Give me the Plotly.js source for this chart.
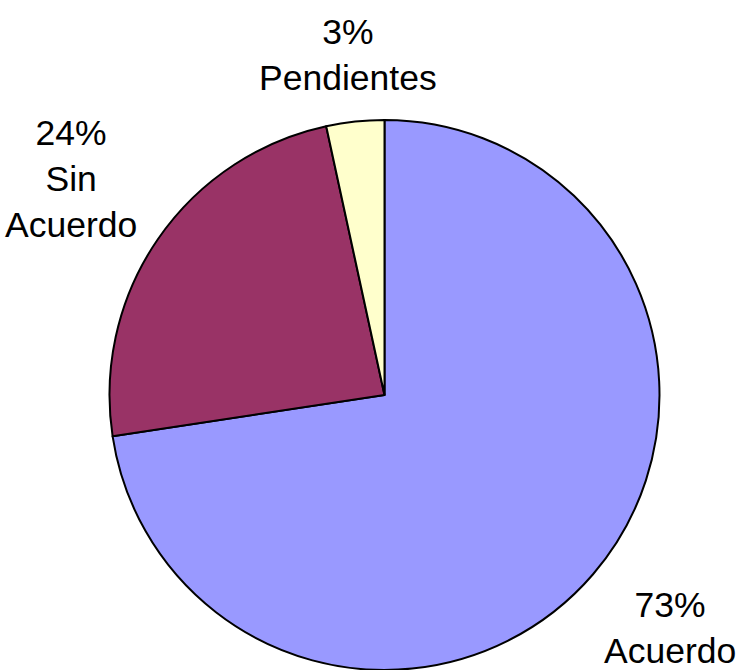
<!DOCTYPE html>
<html>
<head>
<meta charset="utf-8">
<script src="https://cdn.plot.ly/plotly-3.0.1.min.js"></script>
<style>html,body{margin:0;padding:0;background:#fff;}#chart{width:748px;height:670px;}</style>
</head>
<body>
<div id="chart"></div>
<script>
const categories = ["Acuerdo", "Sin Acuerdo", "Pendientes"];
const labelLines = [["Acuerdo"], ["Sin", "Acuerdo"], ["Pendientes"]];
const values = [72.6, 24.0, 3.4];
const colors = ["#9999FF", "#993366", "#FFFFCC"];

const W = 748, H = 670;
const cx = 384.5, cy = 395.5, r = 275.5;
const FONT = "Liberation Sans, Arial, sans-serif";
const FS = 35.5;
const GAP = 12;
const PAD = -4;

const trace = {
  type: "pie",
  labels: categories,
  values: values,
  sort: false,
  direction: "clockwise",
  rotation: 0,
  marker: { colors: colors, line: { color: "#000000", width: 2 } },
  textinfo: "none",
  hoverinfo: "label+percent",
  domain: {
    x: [(cx - r) / W, (cx + r) / W],
    y: [Math.max(0, (H - cy - r) / H), Math.min(1, (H - cy + r) / H)]
  }
};

// label placement computed from the data (slice mid-angle) and measured text size
const ctx = document.createElement("canvas").getContext("2d");
ctx.font = FS + "px 'Liberation Sans', Arial, sans-serif";
const total = values.reduce((a, b) => a + b, 0);

function nearestDist(px, py, w, h) {
  const nx = Math.max(px - w / 2, Math.min(cx, px + w / 2));
  const ny = Math.max(py - h / 2, Math.min(cy, py + h / 2));
  return Math.hypot(nx - cx, ny - cy);
}

let cum = 0;
const annotations = values.map((v, i) => {
  const mid = (cum + v / 2) / total * 2 * Math.PI;
  cum += v;
  const pct = Math.round(v / total * 100) + "%";
  const lines = [pct].concat(labelLines[i]);
  const w = Math.max(...lines.map(s => ctx.measureText(s).width));
  const h = lines.length * FS * 1.3;
  const sx = Math.sin(mid), sy = Math.cos(mid);
  const support = Math.abs(sx) * w / 2 + Math.abs(sy) * h / 2;
  const d = r + GAP + support;
  let px = cx + sx * d;
  let py = cy - sy * d;
  // keep the label inside the picture; if moved, slide it sideways to clear the pie
  const pyC = Math.min(H - PAD - h / 2, Math.max(PAD + h / 2, py));
  if (pyC !== py) {
    py = pyC;
    const dir = sx >= 0 ? 1 : -1;
    while (nearestDist(px, py, w, h) < r + GAP) px += dir;
  }
  px = Math.min(W - 2 - w / 2, Math.max(2 + w / 2, px));
  return {
    text: lines.join("<br>"),
    x: px / W, y: 1 - py / H,
    xref: "paper", yref: "paper",
    xanchor: "center", yanchor: "middle",
    showarrow: false,
    align: "center",
    font: { family: FONT, size: FS, color: "#000000" }
  };
});

const layout = {
  width: W,
  height: H,
  margin: { l: 0, r: 0, t: 0, b: 0 },
  showlegend: false,
  paper_bgcolor: "#ffffff",
  font: { family: FONT, size: FS, color: "#000000" },
  annotations: annotations
};

Plotly.newPlot("chart", [trace], layout, { staticPlot: true });
</script>
</body>
</html>
